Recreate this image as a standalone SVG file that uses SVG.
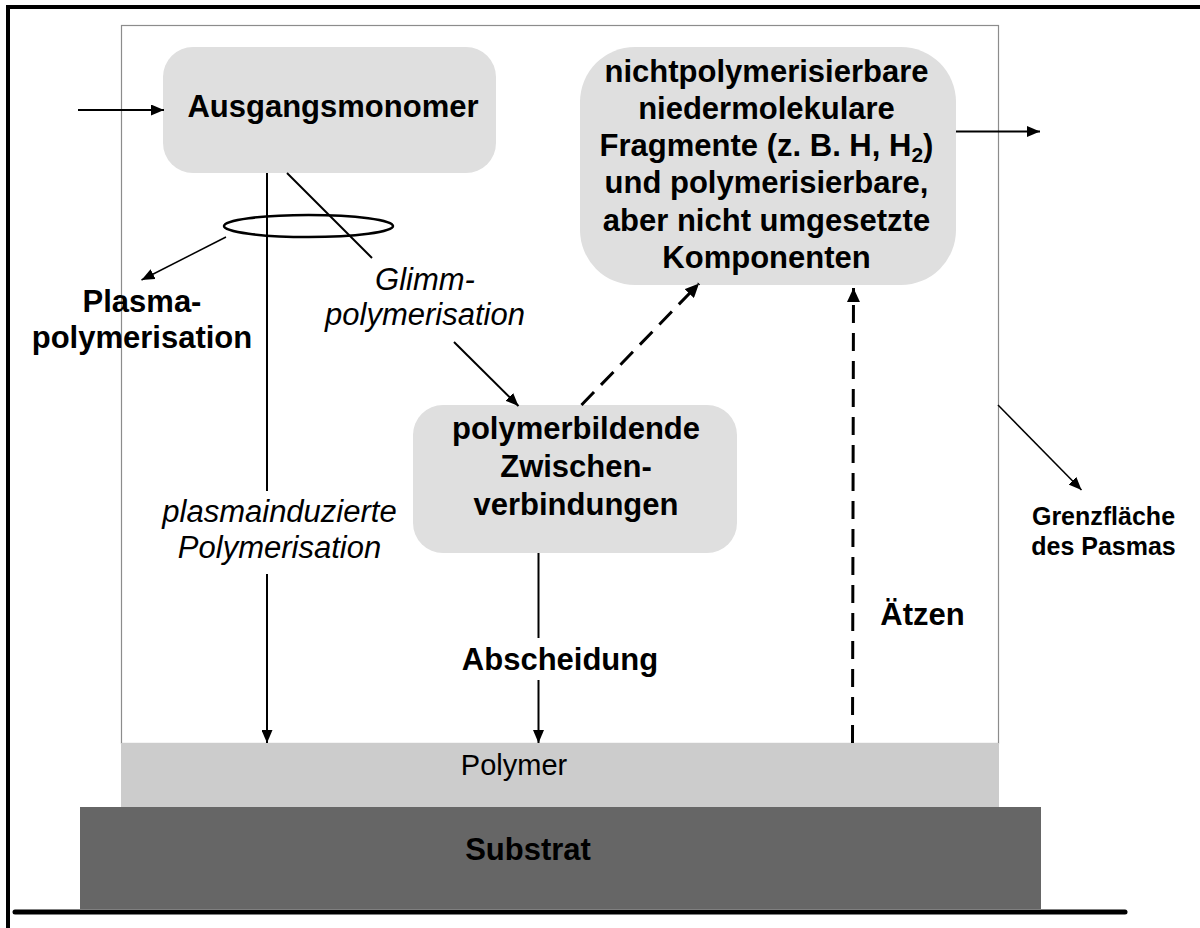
<svg xmlns="http://www.w3.org/2000/svg" width="1200" height="928" viewBox="0 0 1200 928">
<style>
.box{fill:#dfdfdf;stroke:none}
.b{font-family:"Liberation Sans",Arial,sans-serif;font-weight:bold;font-size:31px;fill:#000;text-anchor:middle}
.i{font-family:"Liberation Sans",Arial,sans-serif;font-style:italic;font-size:31px;fill:#000;text-anchor:middle}
.r{font-family:"Liberation Sans",Arial,sans-serif;font-size:29px;fill:#000;text-anchor:middle}
.s{font-family:"Liberation Sans",Arial,sans-serif;font-weight:bold;font-size:25px;fill:#000;text-anchor:middle}
.ln{stroke:#000;stroke-width:2;fill:none}
.thin{stroke:#000;stroke-width:1.5;fill:none}
.dash{stroke:#000;stroke-width:3;fill:none;stroke-dasharray:18 10}
</style>
<defs>
<marker id="ah" viewBox="0 0 13 11" refX="13" refY="5.5" markerWidth="13" markerHeight="11" orient="auto" markerUnits="userSpaceOnUse"><path d="M0,0 L13,5.5 L0,11 z" fill="#000"/></marker>
<marker id="ahd" viewBox="0 0 14 13" refX="14" refY="6.5" markerWidth="14" markerHeight="13" orient="auto" markerUnits="userSpaceOnUse"><path d="M0,0 L14,6.5 L0,13 z" fill="#000"/></marker>
</defs>
<rect width="1200" height="928" fill="#fff"/>
<!-- outer frame -->
<line x1="8" y1="7" x2="1200" y2="7" stroke="#000" stroke-width="4"/>
<line x1="8" y1="5" x2="8" y2="928" stroke="#000" stroke-width="4"/>
<!-- plasma boundary -->
<rect x="121.5" y="25.5" width="877" height="718" fill="none" stroke="#8c8c8c" stroke-width="1.2"/>
<!-- layers -->
<g id="polymer">
<rect x="121" y="743" width="878" height="64" fill="#cccccc"/>
<text class="r" x="514" y="775">Polymer</text>
</g>
<g id="substrat">
<rect x="80" y="807" width="961" height="102" fill="#666666"/>
<text class="b" x="528" y="860">Substrat</text>
</g>
<line x1="15" y1="912" x2="1125" y2="912" stroke="#000" stroke-width="5" stroke-linecap="round"/>
<!-- nodes -->
<g id="ausgangsmonomer">
<rect class="box" x="163" y="47" width="333" height="126" rx="30" ry="30"/>
<text class="b" x="333" y="117">Ausgangsmonomer</text>
</g>
<g id="fragmente">
<rect class="box" x="580" y="47" width="376" height="238" rx="55" ry="55"/>
<text class="b" x="766.5" y="82">nichtpolymerisierbare</text>
<text class="b" x="766.5" y="119">niedermolekulare</text>
<text class="b" x="766.5" y="156">Fragmente (z. B. H, H<tspan font-size="21" dy="6">2</tspan><tspan dy="-6">)</tspan></text>
<text class="b" x="766.5" y="193">und polymerisierbare,</text>
<text class="b" x="766.5" y="231">aber nicht umgesetzte</text>
<text class="b" x="766.5" y="268">Komponenten</text>
</g>
<g id="zwischenverbindungen">
<rect class="box" x="413" y="405" width="324" height="148" rx="30" ry="30"/>
<text class="b" x="576" y="439">polymerbildende</text>
<text class="b" x="576" y="477">Zwischen-</text>
<text class="b" x="576" y="515">verbindungen</text>
</g>
<g id="plasmapolymerisation">
<text class="b" x="142" y="312">Plasma-</text>
<text class="b" x="142" y="348">polymerisation</text>
</g>
<g id="glimmpolymerisation">
<text class="i" x="425" y="290">Glimm-</text>
<text class="i" x="425" y="325">polymerisation</text>
</g>
<g id="plasmainduziert">
<text class="i" x="279.5" y="522">plasmainduzierte</text>
<text class="i" x="279.5" y="558">Polymerisation</text>
</g>
<g id="abscheidung">
<text class="b" x="560" y="670">Abscheidung</text>
</g>
<g id="aetzen">
<text class="b" x="922.5" y="625">Ätzen</text>
</g>
<g id="grenzflaeche">
<text class="s" x="1103.5" y="525">Grenzfläche</text>
<text class="s" x="1103.5" y="555">des Pasmas</text>
</g>
<!-- connectors -->
<g id="connectors">
<line class="ln" x1="78" y1="110" x2="164" y2="110" marker-end="url(#ah)"/>
<line class="ln" x1="956" y1="131.5" x2="1040" y2="131.5" marker-end="url(#ah)"/>
<line class="ln" x1="267" y1="173" x2="267" y2="491"/>
<line class="ln" x1="267" y1="574" x2="267" y2="743" marker-end="url(#ah)"/>
<line class="ln" x1="287" y1="173" x2="372" y2="258"/>
<ellipse cx="308.5" cy="226" rx="84.5" ry="11" fill="none" stroke="#000" stroke-width="2.5"/>
<line class="thin" x1="226" y1="237" x2="141.5" y2="280" marker-end="url(#ah)"/>
<line class="ln" x1="454" y1="342" x2="518.5" y2="406" marker-end="url(#ah)"/>
<line class="ln" x1="538.5" y1="553" x2="538.5" y2="638"/>
<line class="ln" x1="538.5" y1="680" x2="538.5" y2="743" marker-end="url(#ah)"/>
<line class="dash" x1="581.5" y1="405" x2="699" y2="283.5" marker-end="url(#ahd)"/>
<line class="dash" x1="852.5" y1="743" x2="853.5" y2="288" marker-end="url(#ahd)"/>
<line class="thin" x1="998" y1="405" x2="1081.5" y2="490" marker-end="url(#ah)"/>
</g>
</svg>
